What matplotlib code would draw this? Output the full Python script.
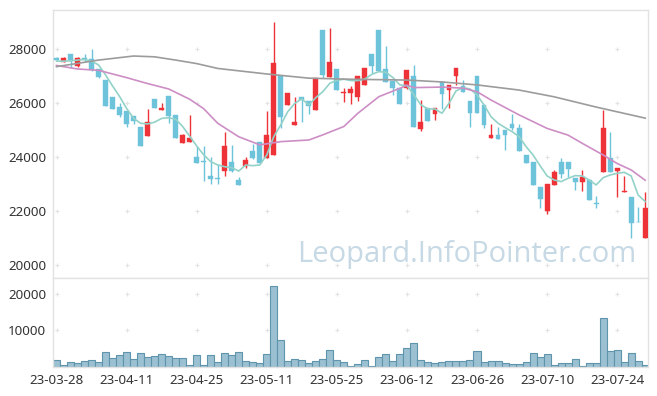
import matplotlib
matplotlib.use('Agg')
import matplotlib.pyplot as plt
import numpy as np

plt.rcParams['font.family'] = ['Noto Sans', 'DejaVu Sans']

# daily candles, index 0 = 23-03-28
opens = [27690, 27545, 27830, 27395, 27690, 27630, 27270, 26860, 26230, 25860,
         25710, 25530, 25120, 24800, 26160, 25765, 26270, 25570, 24540, 24580,
         24000, 23830, 23295, 23230, 23500, 23830, 23160, 23680, 24230, 24570,
         23990, 24100, 27010, 25950, 25210, 26230, 26085, 25765, 28700, 26990,
         27270, 26370, 26380, 26250, 26690, 27815, 28716, 27270, 26815, 26555,
         26580, 27010, 25050, 25826, 25590, 26800, 26506, 27000, 26630, 26086,
         27012, 25937, 24727, 24826, 25010, 25234, 25086, 24085, 23826, 22900,
         22020, 22986, 23826, 23826, 23233, 23097, 23160, 22290, 23442, 23960,
         23504, 22700, 22528, 21600, 21000]
highs = [27720, 27716, 27830, 27716, 27815, 28000, 27280, 26860, 26234, 26000,
         25720, 25530, 25120, 25780, 26160, 26000, 26271, 25570, 24875, 25570,
         24420, 24420, 24020, 23740, 24940, 24440, 23260, 24000, 24490, 24570,
         25700, 29000, 27012, 26382, 26230, 26234, 26090, 26926, 28703, 28790,
         27271, 26570, 26630, 27012, 27300, 27815, 28716, 28110, 26815, 26555,
         27234, 27420, 26135, 25826, 25815, 26802, 26680, 27310, 26850, 26086,
         27012, 25937, 25220, 25110, 25011, 25600, 25234, 24085, 23826, 22900,
         23000, 23516, 23986, 23826, 23233, 23516, 23160, 22580, 25750, 24924,
         23603, 23295, 22528, 22171, 22726]
lows = [27600, 27530, 27300, 27358, 27540, 27200, 26920, 25900, 25770, 25506,
        25130, 25220, 24430, 24800, 25840, 25765, 25260, 24730, 24540, 24580,
        23800, 23140, 23000, 23000, 23300, 23440, 22990, 23620, 23940, 23800,
        23990, 24100, 25070, 25950, 25210, 25300, 25590, 25765, 26950, 26988,
        26506, 26060, 25960, 26085, 26690, 27110, 27200, 26800, 26310, 25960,
        26530, 25135, 24990, 25345, 25380, 25780, 25815, 26680, 26420, 25120,
        25655, 25073, 24727, 24680, 24260, 25000, 24246, 23800, 22986, 22130,
        21890, 22986, 23220, 23257, 22800, 22750, 22430, 22130, 23442, 23442,
        22516, 22700, 21022, 21590, 21000]
closes = [27620, 27680, 27620, 27680, 27650, 27240, 26990, 25910, 25790, 25570,
          25230, 25350, 24430, 25310, 25840, 25825, 25540, 24730, 24830, 24715,
          23800, 23820, 23210, 23210, 24420, 23500, 22990, 23890, 23990, 23800,
          24830, 27490, 25500, 26380, 25310, 26110, 25910, 26925, 27040, 27530,
          26510, 26400, 26530, 27010, 27300, 27395, 27200, 26800, 26555, 25960,
          27234, 25135, 25295, 25345, 25815, 26345, 26680, 27310, 26420, 25655,
          25655, 25210, 24815, 24690, 24840, 25100, 24246, 23800, 22986, 22440,
          23000, 23440, 23394, 23566, 23097, 23270, 22430, 22270, 25100, 23442,
          23603, 22763, 21578, 21590, 22134]
volume = [2000, 550, 1360, 1090, 1640, 2000, 1360, 4090, 2450, 3270,
          4090, 2180, 3820, 2730, 3000, 3550, 3000, 2450, 2450, 550,
          3270, 550, 3270, 1360, 3820, 3270, 4090, 1640, 1360, 1090,
          3550, 22090, 7360, 1640, 2180, 1900, 1090, 1640, 2180, 4640,
          1900, 1360, 270, 820, 1900, 270, 2730, 3550, 1640, 3550,
          5180, 6550, 1900, 1360, 1090, 1360, 1640, 1640, 1640, 1900,
          4360, 1360, 1640, 1640, 1090, 820, 820, 1360, 3820, 2730,
          3550, 550, 1090, 1090, 2180, 270, 1090, 1090, 13360, 4360,
          4640, 1360, 3820, 1640, 550]

ma5 = [27560, 27560, 27570, 27600, 27620, 27560, 27420, 27050, 26640, 26250,
       25810, 25440, 25260, 25235, 25300, 25440, 25465, 25410, 25140, 24780,
       24420, 24090, 23840, 23715, 23650, 23615, 23490, 23715, 23690, 23715,
       24085, 24765, 25200, 25690, 26000, 26160, 25940, 26210, 26430, 26740,
       26850, 26890, 26840, 26840, 26900, 27075, 27170, 27150, 26950, 26680,
       26655, 26310, 25940, 25790, 25790, 25630, 26000, 26455, 26580, 26530,
       26310, 25940, 25505, 25260, 25100, 24950, 24765, 24395, 24085, 23690,
       23310, 23160, 23100, 23220, 23320, 23310, 23160, 22975, 23245, 23345,
       23405, 23445, 23310, 22600, 22360]
ma20_idx = [0, 3, 6, 10, 13, 16, 19, 21, 23, 26, 29, 32, 36, 38, 41, 43, 46, 49,
            50, 51, 55, 58, 60, 62, 66, 70, 73, 75, 78, 80, 82, 84]
ma20 = [27400, 27270, 27220, 26950, 26730, 26530, 26150, 25800, 25260, 24760,
        24460, 24580, 24640, 24830, 25140, 25630, 26245, 26555, 26670, 26580,
        26600, 26560, 26430, 26120, 25570, 25070, 24820, 24520, 24085, 23770,
        23530, 23150]
ma60_idx = [0, 6, 11, 14, 17, 20, 23, 30, 36, 42, 50, 55, 60, 66, 71, 77, 84]
ma60 = [27355, 27600, 27750, 27720, 27600, 27470, 27290, 27085, 26930, 26890,
        26860, 26790, 26680, 26490, 26240, 25860, 25450]

tick_labels = ['23-03-28', '23-04-11', '23-04-25', '23-05-11', '23-05-25',
               '23-06-12', '23-06-26', '23-07-10', '23-07-24']

up_col = '#ee3338'
dn_col = '#6cc3da'
grid_col = '#e3e3e3'
text_col = '#333333'

fig = plt.figure(figsize=(6.57, 3.96), dpi=100)
ax = fig.add_axes([0.0807, 0.298, 0.9056, 0.6768])
axv = fig.add_axes([0.0807, 0.0732, 0.9056, 0.2248])

x = np.arange(len(closes))
o = np.array(opens)
c = np.array(closes)
up = c >= o
cols = np.where(up, up_col, dn_col)
body_lo = np.minimum(o, c)
body_h = np.maximum(np.abs(c - o), 25)

ax.vlines(x, lows, highs, colors=cols, linewidth=1, zorder=2)
ax.bar(x, body_h, bottom=body_lo, width=0.7, color=cols, edgecolor=cols,
       linewidth=0.3, zorder=3)

ax.plot(x, ma5, color='#93d2c8', linewidth=1.2, zorder=4)
ax.plot(ma20_idx, ma20, color='#cd8ec5', linewidth=1.2, zorder=4)
ax.plot(ma60_idx, ma60, color='#9c9c9c', linewidth=1.2, zorder=4)

axv.bar(x, volume, width=1.0, color='#9bc0d2', edgecolor='#5f94ad',
        linewidth=0.8, zorder=2)

tick_pos = np.arange(0, len(closes), 10)
for a in (ax, axv):
    a.set_xlim(-0.5, 84.4)
    a.set_xticks(tick_pos)
    for s in a.spines.values():
        s.set_color('#e2e2e2')
        s.set_linewidth(1)
    a.tick_params(length=0, colors=text_col, labelsize=9.6, pad=5)

ax.set_ylim(19530, 29455)
yt = [20000, 22000, 24000, 26000, 28000]
ax.set_yticks(yt)
ax.set_xticklabels([])
gx, gy = np.meshgrid(tick_pos, yt)
ax.plot(gx.ravel(), gy.ravel(), '+', color=grid_col, markersize=3,
        markeredgewidth=0.8, zorder=1)

axv.set_ylim(0, 24350)
vt = [10000, 20000]
axv.set_yticks(vt)
axv.set_xticklabels(tick_labels)
gx, gy = np.meshgrid(tick_pos, vt)
axv.plot(gx.ravel(), gy.ravel(), '+', color=grid_col, markersize=3,
         markeredgewidth=0.8, zorder=1)

ax.text(0.696, 0.06, 'Leopard.InfoPointer.com', transform=ax.transAxes,
        ha='center', va='baseline', fontsize=21, color='#c6d9e5',
        family='Open Sans', zorder=0)

fig.savefig('out.png', dpi=100)
